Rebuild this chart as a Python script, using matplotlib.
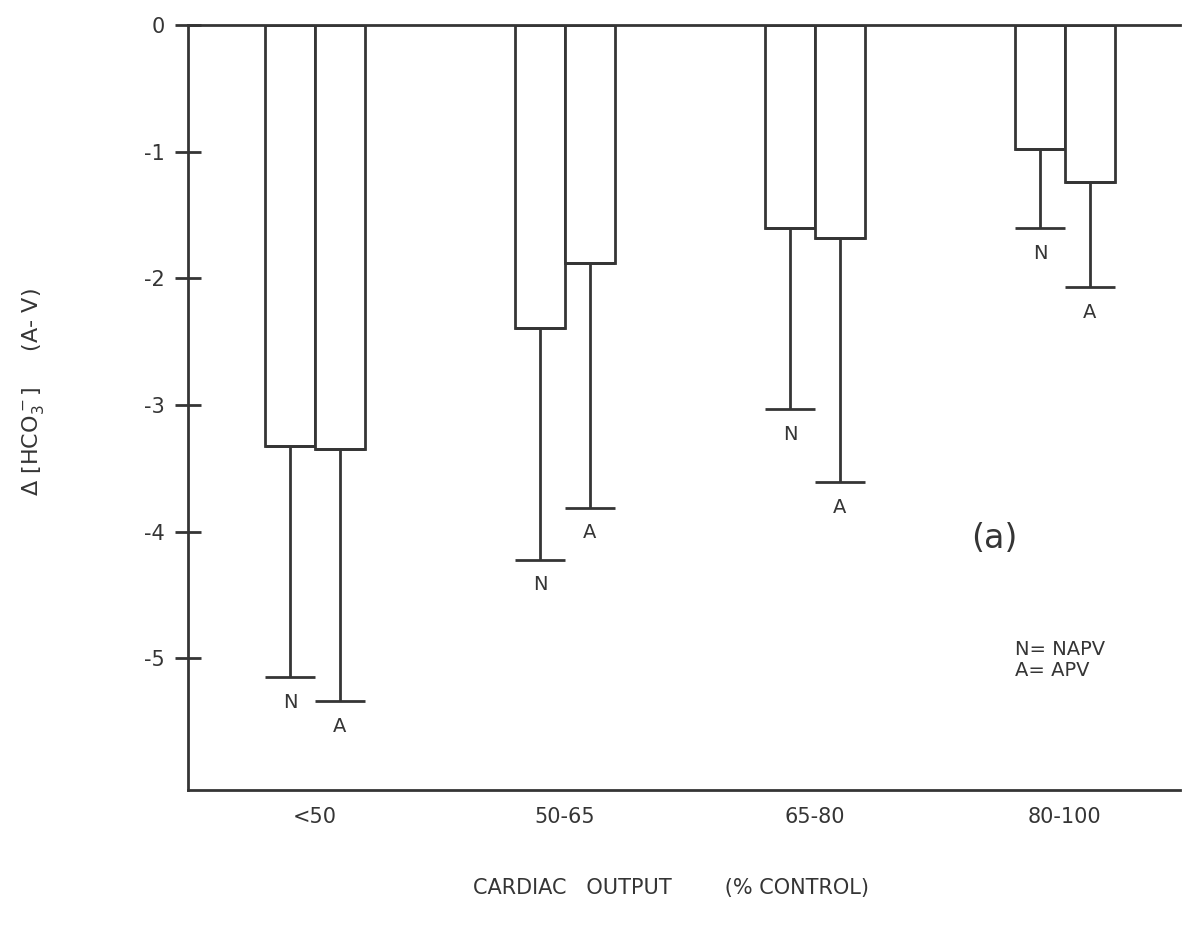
import matplotlib.pyplot as plt
import numpy as np

plt.rcParams['axes.unicode_minus'] = False
plt.rcParams['font.family'] = 'DejaVu Sans'

# bicarbonate change (A - V) by cardiac output class, mean and SD
groups = ["<50", "50-65", "65-80", "80-100"]
napv_mean = [-3.32, -2.39, -1.60, -0.98]
napv_sd = [1.83, 1.83, 1.43, 0.62]
apv_mean = [-3.35, -1.88, -1.68, -1.24]
apv_sd = [1.99, 1.93, 1.93, 0.83]

ink = '#353535'
bar_w = 0.2

fig = plt.figure(figsize=(11.93, 9.3), dpi=100)
ax = fig.add_axes([0.1576, 0.1505, 0.8314, 0.8226])

x = np.arange(len(groups))
xn = x - bar_w / 2
xa = x + bar_w / 2

ax.bar(xn, napv_mean, width=bar_w, color='white', edgecolor=ink, linewidth=2, zorder=2)
ax.bar(xa, apv_mean, width=bar_w, color='white', edgecolor=ink, linewidth=2, zorder=2)

# one-sided (downward) SD bars
ax.errorbar(xn, napv_mean, yerr=[napv_sd, np.zeros(len(groups))], fmt='none',
            ecolor=ink, elinewidth=2, capsize=18, capthick=2, zorder=3)
ax.errorbar(xa, apv_mean, yerr=[apv_sd, np.zeros(len(groups))], fmt='none',
            ecolor=ink, elinewidth=2, capsize=18, capthick=2, zorder=3)

for i in range(len(groups)):
    ax.text(xn[i], napv_mean[i] - napv_sd[i] - 0.2, 'N', ha='center', va='center',
            fontsize=14, color=ink)
    ax.text(xa[i], apv_mean[i] - apv_sd[i] - 0.2, 'A', ha='center', va='center',
            fontsize=14, color=ink)

ax.set_xlim(-0.508, 3.46)
ax.set_ylim(-6.04, 0)

ax.set_yticks([0, -1, -2, -3, -4, -5])
ax.set_yticklabels(['0', '-1', '-2', '-3', '-4', '-5'])
ax.set_xticks(x)
ax.set_xticklabels(groups)

ax.tick_params(axis='y', direction='inout', length=19, width=2, color=ink,
               labelsize=15, labelcolor=ink, pad=7)
ax.tick_params(axis='x', length=0, labelsize=15, labelcolor=ink, pad=12)

for side in ['left', 'bottom', 'top']:
    ax.spines[side].set_color(ink)
    ax.spines[side].set_linewidth(2)
ax.spines['right'].set_visible(False)

ax.set_ylabel(r'$\Delta\ [\mathrm{HCO_3^-}]$     (A- V)', fontsize=16, color=ink)
ax.yaxis.set_label_coords(-0.143, 0.52)
ax.set_xlabel('CARDIAC   OUTPUT        (% CONTROL)', fontsize=15, color=ink)
ax.xaxis.set_label_coords(0.487, -0.115)

ax.text(0.79, 0.329, '(a)', transform=ax.transAxes, fontsize=24, color=ink,
        ha='left', va='center')
ax.text(0.834, 0.17, 'N= NAPV\nA= APV', transform=ax.transAxes, fontsize=14,
        color=ink, ha='left', va='center', linespacing=1.15)

fig.savefig('out.png', dpi=100, facecolor='white')
